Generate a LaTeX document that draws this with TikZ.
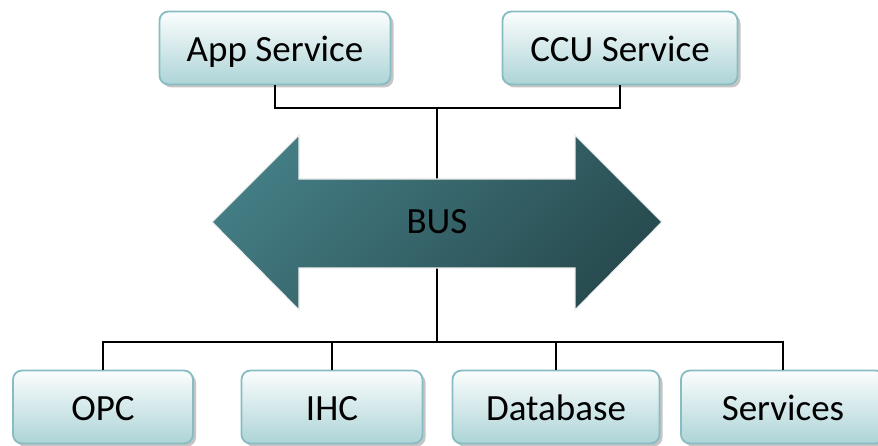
\documentclass[tikz,border=0pt]{standalone}
\usepackage{fontspec}
\setmainfont{Carlito}
\usetikzlibrary{shadows}
\definecolor{boxedge}{HTML}{86BCC2}
\definecolor{boxtop}{HTML}{FBFDFD}
\definecolor{boxbottom}{HTML}{ADD4D7}
\definecolor{buslight}{HTML}{437C83}
\definecolor{busdark}{HTML}{284C50}
\tikzset{
  svcbox/.style={draw=boxedge, line width=1.8pt, rounded corners=9pt,
    top color=boxtop, bottom color=boxbottom, text=black,
    minimum height=73pt, inner sep=0pt, text height=27pt, text depth=0pt,
    font=\fontsize{37}{40}\selectfont,
    drop shadow={shadow xshift=3pt, shadow yshift=-3pt, fill=black!45, opacity=.5}},
  wire/.style={draw=black, line width=1.4pt}
}
\begin{document}
\begin{tikzpicture}[x=1pt, y=-1pt]
\clip (0,0) rectangle (878,446);
\fill[white] (0,0) rectangle (878,446);

% service boxes
\node[svcbox, minimum width=231pt] (app) at (275,48) {App Service};
\node[svcbox, minimum width=235pt] (ccu) at (620,48) {CCU Service};
\node[svcbox, minimum width=180pt] (opc) at (103,407) {OPC};
\node[svcbox, minimum width=181pt] (ihc) at (332,407) {IHC};
\node[svcbox, minimum width=207pt] (db)  at (556,407) {Database};
\node[svcbox, minimum width=204pt] (svc) at (783,407) {Services};

% bus junctions
\coordinate (hub) at (437,222);
\coordinate (topjoin) at (437,108);
\coordinate (botjoin) at (437,342);

% wiring to the bus
\draw[wire] (app.south) |- (topjoin) -| (ccu.south);
\draw[wire] (topjoin) -- (hub) -- (botjoin);
\draw[wire] (opc.north) |- (botjoin) -| (svc.north);
\draw[wire] (ihc.north) -- (ihc.north |- botjoin);
\draw[wire] (db.north) -- (db.north |- botjoin);

% double-headed bus arrow
\path[draw=black!6, line width=1.2pt, top color=buslight, bottom color=busdark, shading angle=45]
  (212,222) -- (299,135) -- (299,179) -- (575,179) -- (575,135) -- (662,222)
  -- (575,310) -- (575,268) -- (299,268) -- (299,310) -- cycle;
\node[font=\fontsize{37}{40}\selectfont, text=black] (bus) at (hub) {BUS};
\end{tikzpicture}
\end{document}
